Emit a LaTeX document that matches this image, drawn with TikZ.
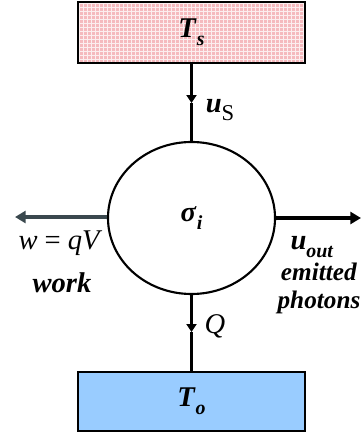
\documentclass[tikz,border=0pt]{standalone}
\usepackage{fontspec}
\setmainfont{Liberation Serif}
\usetikzlibrary{arrows.meta,shapes.geometric,patterns}

\definecolor{pinkfill}{RGB}{245,186,190}
\definecolor{bluefill}{RGB}{153,204,255}
\definecolor{slateline}{RGB}{58,72,78}
\newcommand{\bi}[1]{\textbf{\textit{#1}}}
\newcommand{\lowsub}[1]{\raisebox{-0.6ex}{\fontsize{15}{15}\selectfont #1}}

\begin{document}
\begin{tikzpicture}[line width=1.6pt,
  every node/.style={font=\fontsize{21.5}{23}\selectfont},
  reservoir/.style={draw, line width=1.8pt, minimum width=6.0cm, minimum height=1.58cm, inner sep=0pt},
  heatflow/.style={line width=2.4pt, -{Triangle[length=6pt, width=7.5pt]}},
  sideflow/.style={line width=2.4pt, -{Triangle[length=8pt, width=9pt]}}]
  \useasboundingbox (0,0) rectangle (9.551,11.483);
  % reservorio caliente (sol)
  \node[reservoir, preaction={fill=pinkfill}, pattern=grid, pattern color=white!75!pinkfill,
        minimum height=1.614cm] (sun) at (5.067,10.623) {\bi{T}\lowsub{\bi{s}}};
  % reservorio frio
  \node[reservoir, fill=bluefill, minimum height=1.561cm] (cold) at (5.067,0.860) {\bi{T}\lowsub{\bi{o}}};
  % celda
  \node[draw, ellipse, minimum width=4.419cm, minimum height=4.022cm, inner sep=0pt] (cell) at (5.067,5.715)
        {\raisebox{-0.2ex}{\bi{σ}\lowsub{\bi{i}}}};
  % flujo de entrada
  \coordinate (usmid) at (5.067,8.758);
  \draw[heatflow] (sun.south) -- (usmid);
  \draw (usmid) -- (cell.north);
  \node (uslabel) at (5.82,8.572) {\bi{u}\lowsub{\fontsize{17}{17}\selectfont S}};
  % calor al ambiente
  \coordinate (qmid) at (5.067,2.699);
  \draw[heatflow] (cell.south) -- (qmid);
  \draw (qmid) -- (cold.north);
  \node (qlabel) at (5.689,2.857) {\textit{Q}};
  % trabajo
  \coordinate (workend) at (0.397,5.741);
  \draw[sideflow, slateline] (cell.west |- workend) -- (workend);
  \node (wlabel) at (1.60,5.053) {\textit{w} = \textit{qV}};
  \node (worktext) at (1.640,3.995) {\bi{work}};
  % fotones emitidos
  \coordinate (photend) at (9.551,5.715);
  \draw[sideflow] (cell.east) -- (photend);
  \node (uoutlabel) at (8.255,4.948) {\bi{u}\lowsub{\bi{out}}};
  \node[align=center, inner sep=0pt, font=\fontsize{19}{21}\selectfont] (phottext) at (8.44,3.84)
        {\bi{emitted}\\[0pt]\bi{photons}};
\end{tikzpicture}
\end{document}
